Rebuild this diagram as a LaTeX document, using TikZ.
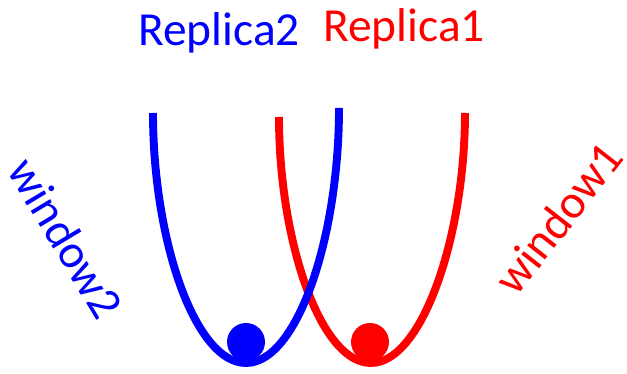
\documentclass[tikz,border=0pt]{standalone}
\usepackage{fontspec}
\setmainfont{Carlito}
\usepackage{tikz}
\tikzset{>=latex}

\begin{document}
\begin{tikzpicture}[x=0.02cm,y=-0.02cm]
      \useasboundingbox (0,0) rectangle (627,374);
      \tikzset{well/.style={line width=4.5pt},
        ball/.style={circle,fill,inner sep=0pt,minimum size=0.76cm},
        lbl/.style={font=\fontsize{27}{30}\selectfont,inner sep=0pt}}
      \draw[well,red] (279,117) .. controls (279,240) and (320,363) .. (371,363)
        .. controls (422,363) and (465,236) .. (465,113);
      \draw[well,blue] (153,113) .. controls (153,240) and (195,363) .. (246,363)
        .. controls (297,363) and (339,238) .. (339,108);
      \node[ball,blue] (B) at (246,342) {};
      \node[ball,red] (R) at (370,342) {};
      \node[lbl,blue,anchor=base] (T2) at (219,46) {Replica2};
      \node[lbl,red,anchor=base] (T1) at (404,42) {Replica1};
      \node[lbl,blue,rotate=-59] (W2) at (66,238) {window2};
      \node[lbl,red,rotate=52] (W1) at (558,218) {window1};
    \end{tikzpicture}
\end{document}
